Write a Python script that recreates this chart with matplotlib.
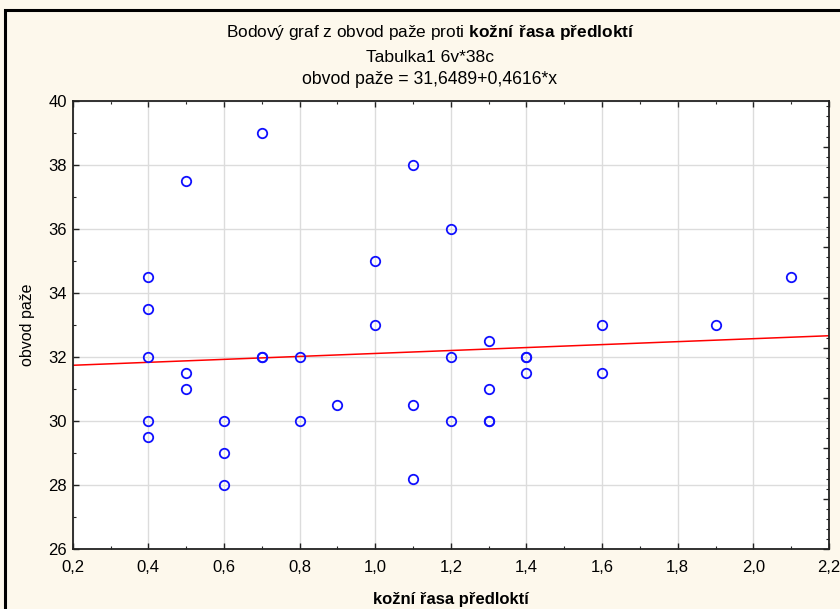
import numpy as np
import matplotlib.pyplot as plt
from matplotlib.ticker import MultipleLocator, FuncFormatter
from matplotlib.patches import Rectangle

plt.rcParams['font.family'] = ['Liberation Sans', 'DejaVu Sans']
plt.rcParams['mathtext.fontset'] = 'custom'
plt.rcParams['mathtext.rm'] = 'Liberation Sans'
plt.rcParams['mathtext.bf'] = 'Liberation Sans:bold'

# data
kozni_rasa = [0.4, 0.4, 0.4, 0.4, 0.4,
              0.5, 0.5, 0.5,
              0.6, 0.6, 0.6,
              0.7, 0.7, 0.7,
              0.8, 0.8,
              0.9,
              1.0, 1.0,
              1.1, 1.1, 1.1,
              1.2, 1.2, 1.2,
              1.3, 1.3, 1.3, 1.3,
              1.4, 1.4, 1.4,
              1.6, 1.6,
              1.9,
              2.1]
obvod_paze = [34.5, 33.5, 32, 30, 29.5,
              37.5, 31.5, 31,
              30, 29, 28,
              39, 32, 32,
              32, 30,
              30.5,
              35, 33,
              38, 30.5, 28.2,
              36, 32, 30,
              32.5, 31, 30, 30,
              32, 32, 31.5,
              33, 31.5,
              33,
              34.5]
intercept = 31.6489
slope = 0.4616

fig = plt.figure(figsize=(8.4, 6.09), dpi=100)
fig.patch.set_facecolor('#fdf8ec')
# outer frame (only left and top edges visible)
fig.add_artist(Rectangle((5 / 840, -0.1), 1.2, 1 - 10 / 609 + 0.1,
                         transform=fig.transFigure, fill=False,
                         edgecolor='black', linewidth=2.2))

ax = fig.add_axes([72.7 / 840, 1 - 549 / 609, (829 - 72.7) / 840, 448 / 609])
ax.set_facecolor('white')

ax.plot(kozni_rasa, obvod_paze, 'o', markersize=6.8, markerfacecolor='none',
        markeredgecolor='#1010ff', markeredgewidth=1.3, zorder=3)

xl = np.array([0.2, 2.2])
ax.plot(xl, intercept + slope * xl, color='red', linewidth=1.1, zorder=2)

ax.set_xlim(0.2, 2.2)
ax.set_ylim(26, 40)
ax.xaxis.set_major_locator(MultipleLocator(0.2))
ax.xaxis.set_minor_locator(MultipleLocator(0.1))
ax.yaxis.set_major_locator(MultipleLocator(2))
ax.yaxis.set_minor_locator(MultipleLocator(1))
ax.xaxis.set_major_formatter(FuncFormatter(lambda v, p: f'{v:.1f}'.replace('.', ',')))
ax.yaxis.set_major_formatter(FuncFormatter(lambda v, p: f'{v:.0f}'))
ax.tick_params(which='both', direction='in', top=True, right=False, labelsize=12,
               color='#222222')
ax.tick_params(which='major', length=4, width=1)
ax.tick_params(which='minor', length=2.5, width=0.8)
ax.tick_params(axis='x', pad=8)
ax.tick_params(axis='y', pad=4)
ax.grid(True, which='major', color='#dcdcdc', linewidth=1)
ax.set_axisbelow(True)
for s in ax.spines.values():
    s.set_linewidth(1.3)
    s.set_color('#222222')

# secondary scale on the right edge (ticks only)
ax2 = ax.twinx()
ax2.set_ylim(0, 448 / 50.3)
ax2.yaxis.set_major_locator(MultipleLocator(1))
ax2.yaxis.set_minor_locator(MultipleLocator(0.2))
ax2.tick_params(which='both', direction='in', labelright=False, color='#222222')
ax2.tick_params(which='major', length=4, width=1)
ax2.tick_params(which='minor', length=2.5, width=0.8)
for s in ax2.spines.values():
    s.set_visible(False)

ax.set_ylabel('obvod paže', fontsize=11.5, labelpad=10)
ax.set_xlabel('kožní řasa předloktí', fontsize=12, fontweight='bold', labelpad=12)

tx = 430 / 840
fig.text(tx, 1 - 33 / 609, 'Bodový graf z obvod paže proti $\\bf{kožní\\ řasa\\ předloktí}$',
         ha='center', va='center', fontsize=12.4)
fig.text(tx, 1 - 57 / 609, 'Tabulka1 6v*38c', ha='center', va='center', fontsize=12.6)
fig.text(tx, 1 - 80 / 609, 'obvod paže = 31,6489+0,4616*x', ha='center', va='center',
         fontsize=12.7)

fig.savefig('out.png', dpi=100, facecolor=fig.get_facecolor())
